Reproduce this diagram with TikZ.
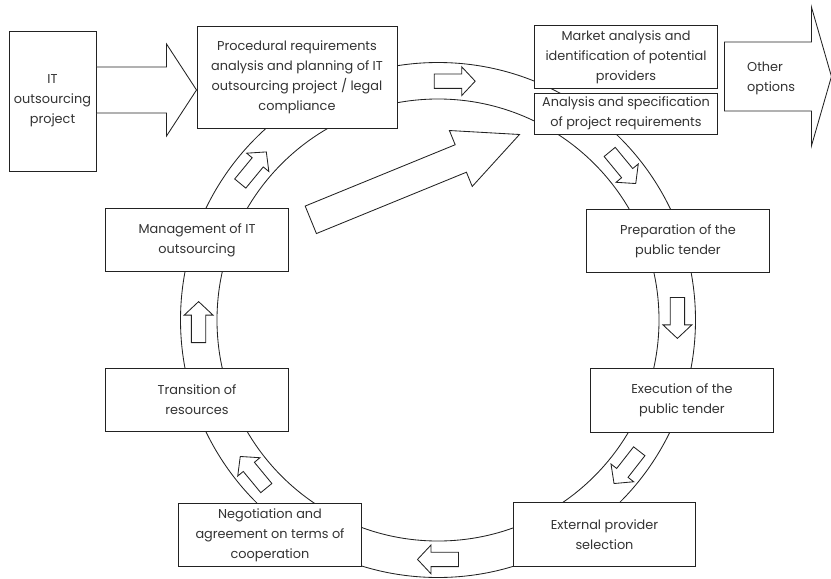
\documentclass[tikz,border=0pt]{standalone}
\usepackage{fontspec}
\setmainfont{Poppins}
\usepackage{tikz}
\usetikzlibrary{calc}
\definecolor{ink}{HTML}{222222}
\definecolor{txt}{HTML}{333333}

% block arrow: tail, tip, shaft half width, head half width, head length
\newcommand{\fatarrow}[5]{%
  \coordinate (fah) at ($(#2)!#5!(#1)$);
  \draw[blockarrow] ($(#1)!#3!-90:(#2)$) -- ($(fah)!#3!-90:(#2)$) -- ($(fah)!#4!-90:(#2)$) -- (#2)
    -- ($(fah)!#4!90:(#2)$) -- ($(fah)!#3!90:(#2)$) -- ($(#1)!#3!90:(#2)$) -- cycle;}

\tikzset{
  stage/.style={draw=ink, fill=white, line width=0.9pt, minimum width=6.07cm, minimum height=2.13cm,
    inner sep=0pt, align=center, text=txt, font=\fontsize{12.2}{19}\selectfont},
  blockarrow/.style={draw=ink, fill=white, line width=0.8pt, line join=miter},
  ringline/.style={draw=ink, line width=0.8pt}
}

\begin{document}
\begin{tikzpicture}
  \useasboundingbox (0,0) rectangle (27.7,19.267);

  % Ring
  \coordinate (ring) at (14.6,8.6);
  \draw[ringline] (ring) circle (8.583);
  \draw[ringline] (ring) circle (7.367);

  % Stages
  \node[stage, minimum width=2.9cm, minimum height=4.667cm] (it) at (1.75,15.9) {IT\\outsourcing\\project};
  \node[stage, minimum width=6.667cm, minimum height=3.4cm] (proc) at (9.9,16.7)
    {Procedural requirements\\analysis and planning of IT\\outsourcing project / legal\\compliance};
  \node[stage] (market) at (20.867,17.367) {Market analysis and\\identification of potential\\providers};
  \node[stage, minimum height=1.367cm] (ana) at (20.867,15.483) {Analysis and specification\\of project requirements};
  \node[stage] (prep) at (22.6,11.233) {Preparation of the\\public tender};
  \node[stage] (exec) at (22.733,5.917) {Execution of the\\public tender};
  \node[stage] (ext) at (20.15,1.45) {External provider\\selection};
  \node[stage] (nego) at (9.0,1.433) {Negotiation and\\agreement on terms of\\cooperation};
  \node[stage] (trans) at (6.567,5.933) {Transition of\\resources};
  \node[stage] (mgmt) at (6.567,11.267) {Management of IT\\outsourcing};

  % Arrows along the ring
  \foreach \a/\d [count=\i] in {86/0, 39.5/-50.5, 0.5/-90, -38/-128, -90/180, -140.5/129.5, 180.5/90, 140.5/50.5} {
    \coordinate (t\i) at ($(ring)+(\a:7.98)+(\d+180:0.683)$);
    \coordinate (p\i) at ($(ring)+(\a:7.98)+(\d:0.683)$);
    \fatarrow{t\i}{p\i}{0.24cm}{0.48cm}{0.45cm}
  }

  % Big arrows
  \coordinate (itout) at ($(it.east)+(0,0.367)$);
  \coordinate (itin) at (itout -| proc.west);
  \fatarrow{itout}{itin}{0.767cm}{1.533cm}{1.0cm}

  \coordinate (bigtail) at (10.36,11.94);
  \coordinate (bigtip) at ($(ana.south west)+(-0.5,0)$);
  \fatarrow{bigtail}{bigtip}{0.495cm}{1.007cm}{2.113cm}

  \coordinate (otail) at ($(market.east)+(0.23,-0.65)$);
  \coordinate (otip) at ($(otail)+(3.567,0)$);
  \fatarrow{otail}{otip}{1.15cm}{2.317cm}{0.667cm}
  \node[anchor=west, align=left, text=txt, inner sep=0pt, font=\fontsize{12.2}{19}\selectfont]
    (other) at ($(otail)+(0.75,-0.08)$) {Other\\options};
\end{tikzpicture}
\end{document}
